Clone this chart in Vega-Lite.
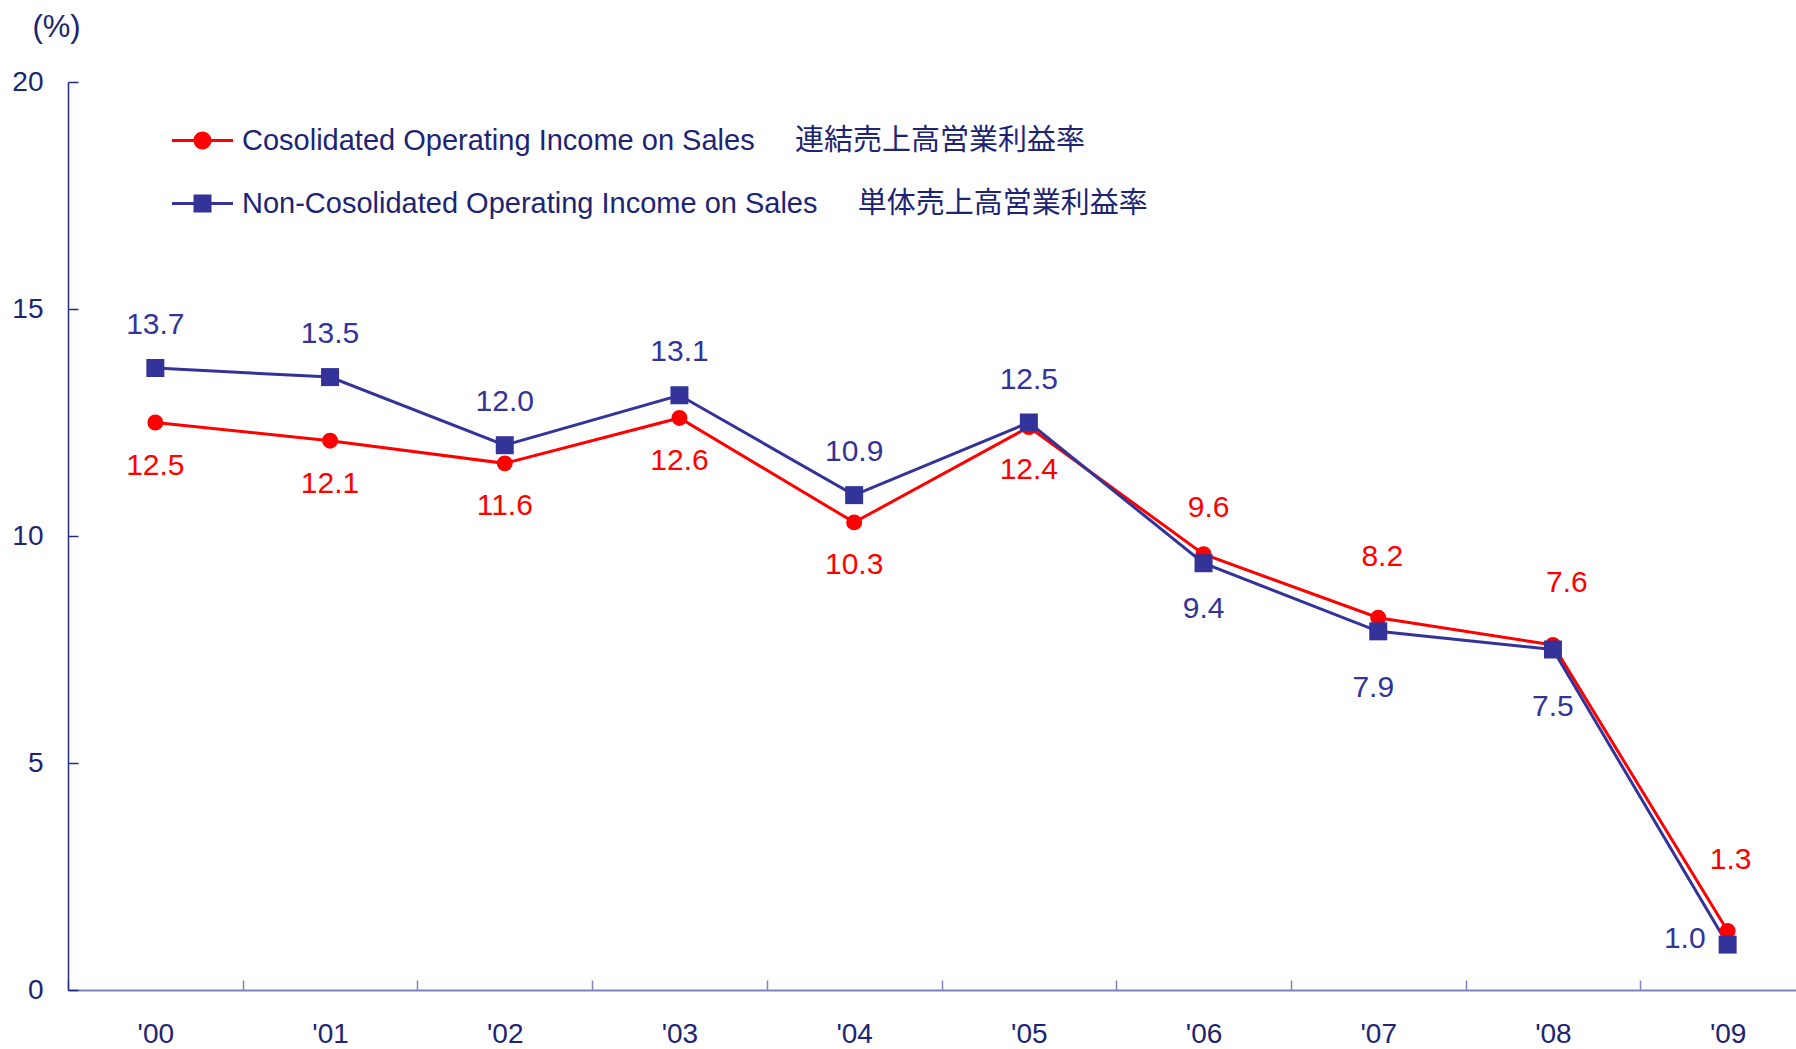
{
  "$schema": "https://vega.github.io/schema/vega-lite/v6.json",
  "autosize": {"type": "none"},
  "width": 1727,
  "height": 908,
  "padding": {"left": 68, "top": 82, "right": 1, "bottom": 59},
  "background": "white",
  "config": {
    "view": {"stroke": null},
    "font": "Liberation Sans, Arial, Noto Sans CJK JP, sans-serif"
  },
  "data": {
    "values": [
      {"year": "'00", "series": "Cosolidated Operating Income on Sales\u00a0\u00a0\u00a0\u00a0\u00a0連結売上高営業利益率", "value": 12.5},
      {"year": "'01", "series": "Cosolidated Operating Income on Sales\u00a0\u00a0\u00a0\u00a0\u00a0連結売上高営業利益率", "value": 12.1},
      {"year": "'02", "series": "Cosolidated Operating Income on Sales\u00a0\u00a0\u00a0\u00a0\u00a0連結売上高営業利益率", "value": 11.6},
      {"year": "'03", "series": "Cosolidated Operating Income on Sales\u00a0\u00a0\u00a0\u00a0\u00a0連結売上高営業利益率", "value": 12.6},
      {"year": "'04", "series": "Cosolidated Operating Income on Sales\u00a0\u00a0\u00a0\u00a0\u00a0連結売上高営業利益率", "value": 10.3},
      {"year": "'05", "series": "Cosolidated Operating Income on Sales\u00a0\u00a0\u00a0\u00a0\u00a0連結売上高営業利益率", "value": 12.4},
      {"year": "'06", "series": "Cosolidated Operating Income on Sales\u00a0\u00a0\u00a0\u00a0\u00a0連結売上高営業利益率", "value": 9.6},
      {"year": "'07", "series": "Cosolidated Operating Income on Sales\u00a0\u00a0\u00a0\u00a0\u00a0連結売上高営業利益率", "value": 8.2},
      {"year": "'08", "series": "Cosolidated Operating Income on Sales\u00a0\u00a0\u00a0\u00a0\u00a0連結売上高営業利益率", "value": 7.6},
      {"year": "'09", "series": "Cosolidated Operating Income on Sales\u00a0\u00a0\u00a0\u00a0\u00a0連結売上高営業利益率", "value": 1.3},
      {"year": "'00", "series": "Non-Cosolidated Operating Income on Sales\u00a0\u00a0\u00a0\u00a0\u00a0単体売上高営業利益率", "value": 13.7},
      {"year": "'01", "series": "Non-Cosolidated Operating Income on Sales\u00a0\u00a0\u00a0\u00a0\u00a0単体売上高営業利益率", "value": 13.5},
      {"year": "'02", "series": "Non-Cosolidated Operating Income on Sales\u00a0\u00a0\u00a0\u00a0\u00a0単体売上高営業利益率", "value": 12.0},
      {"year": "'03", "series": "Non-Cosolidated Operating Income on Sales\u00a0\u00a0\u00a0\u00a0\u00a0単体売上高営業利益率", "value": 13.1},
      {"year": "'04", "series": "Non-Cosolidated Operating Income on Sales\u00a0\u00a0\u00a0\u00a0\u00a0単体売上高営業利益率", "value": 10.9},
      {"year": "'05", "series": "Non-Cosolidated Operating Income on Sales\u00a0\u00a0\u00a0\u00a0\u00a0単体売上高営業利益率", "value": 12.5},
      {"year": "'06", "series": "Non-Cosolidated Operating Income on Sales\u00a0\u00a0\u00a0\u00a0\u00a0単体売上高営業利益率", "value": 9.4},
      {"year": "'07", "series": "Non-Cosolidated Operating Income on Sales\u00a0\u00a0\u00a0\u00a0\u00a0単体売上高営業利益率", "value": 7.9},
      {"year": "'08", "series": "Non-Cosolidated Operating Income on Sales\u00a0\u00a0\u00a0\u00a0\u00a0単体売上高営業利益率", "value": 7.5},
      {"year": "'09", "series": "Non-Cosolidated Operating Income on Sales\u00a0\u00a0\u00a0\u00a0\u00a0単体売上高営業利益率", "value": 1.0}
    ]
  },
  "encoding": {
    "x": {
      "field": "year",
      "type": "ordinal",
      "sort": null,
      "scale": {"type": "band", "range": [0, 1747], "paddingInner": 0, "paddingOuter": 0},
      "axis": {
        "title": null,
        "labelAngle": 0,
        "labelFontSize": 28,
        "labelColor": "#1c2473",
        "labelFont": "Liberation Sans",
        "labelPadding": 40,
        "labelBaseline": "top",
        "tickBand": "extent",
        "tickSize": -10,
        "tickColor": "#7c84bb",
        "tickWidth": 1.5,
        "domainColor": "#7c84bb",
        "domainWidth": 2,
        "grid": false
      }
    },
    "y": {
      "field": "value",
      "type": "quantitative",
      "scale": {"domain": [0, 20], "nice": false},
      "axis": {
        "values": [0, 5, 10, 15, 20],
        "title": "(%)",
        "titleAngle": 0,
        "titleX": -12,
        "titleY": -55,
        "titleAlign": "center",
        "titleBaseline": "middle",
        "titleFontSize": 31,
        "titleFontWeight": "normal",
        "titleColor": "#1c2473",
        "titleFont": "Liberation Sans",
        "labelFontSize": 28,
        "labelColor": "#1c2473",
        "labelFont": "Liberation Sans",
        "labelPadding": 35,
        "tickSize": -10,
        "tickColor": "#1f2a80",
        "tickWidth": 1.5,
        "domainColor": "#1f2a80",
        "domainWidth": 1.5,
        "grid": false
      }
    },
    "color": {
      "field": "series",
      "type": "nominal",
      "scale": {
        "domain": [
          "Cosolidated Operating Income on Sales\u00a0\u00a0\u00a0\u00a0\u00a0連結売上高営業利益率",
          "Non-Cosolidated Operating Income on Sales\u00a0\u00a0\u00a0\u00a0\u00a0単体売上高営業利益率"
        ],
        "range": ["#ff0000", "#333399"]
      },
      "legend": {
        "title": null,
        "orient": "none",
        "legendX": 104,
        "legendY": 28,
        "padding": 0,
        "rowPadding": 17,
        "symbolSize": 3721,
        "symbolStrokeWidth": 0,
        "labelOffset": 9,
        "labelFontSize": 29,
        "labelColor": "#1c2473",
        "labelFont": "Liberation Sans, Noto Sans CJK JP",
        "labelLimit": 2000,
        "encode": {
          "symbols": {
            "update": {
              "shape": {"signal": "indexof(datum.value, 'Non-') === 0 ? 'M-1,-0.05H1V0.05H-1Z M-0.295,-0.295H0.295V0.295H-0.295Z' : 'M-1,-0.05H1V0.05H-1Z M0.295,0A0.295,0.295 0 1,1 -0.295,0A0.295,0.295 0 1,1 0.295,0Z'"},
              "fill": {"signal": "indexof(datum.value, 'Non-') === 0 ? '#333399' : '#ff0000'"},
              "fillOpacity": {"value": 1},
              "strokeWidth": {"value": 0}
            }
          }
        }
      }
    }
  },
  "layer": [
    {
      "mark": {"type": "line", "strokeWidth": 3}
    },
    {
      "mark": {"type": "point", "filled": true, "opacity": 1},
      "encoding": {
        "shape": {
          "field": "series",
          "type": "nominal",
          "scale": {"range": ["circle", "square"]},
          "legend": null
        },
        "size": {
          "field": "series",
          "type": "nominal",
          "scale": {"range": [254, 324]},
          "legend": null
        }
      }
    },
    {
      "transform": [{"filter": "indexof(datum.series, 'Non-') !== 0 && indexof(['\\'00','\\'01','\\'02','\\'03','\\'04','\\'05'], datum.year) >= 0"}],
      "mark": {"type": "text", "fontSize": 30, "baseline": "middle", "dy": 43, "font": "Liberation Sans"},
      "encoding": {"text": {"field": "value", "type": "quantitative", "format": ".1f"}}
    },
    {
      "transform": [{"filter": "indexof(datum.series, 'Non-') !== 0 && datum.year === '\\'06'"}],
      "mark": {"type": "text", "fontSize": 30, "baseline": "middle", "dy": -46, "dx": 5, "font": "Liberation Sans"},
      "encoding": {"text": {"field": "value", "type": "quantitative", "format": ".1f"}}
    },
    {
      "transform": [{"filter": "indexof(datum.series, 'Non-') !== 0 && datum.year === '\\'07'"}],
      "mark": {"type": "text", "fontSize": 30, "baseline": "middle", "dy": -61, "dx": 4, "font": "Liberation Sans"},
      "encoding": {"text": {"field": "value", "type": "quantitative", "format": ".1f"}}
    },
    {
      "transform": [{"filter": "indexof(datum.series, 'Non-') !== 0 && datum.year === '\\'08'"}],
      "mark": {"type": "text", "fontSize": 30, "baseline": "middle", "dy": -62, "dx": 14, "font": "Liberation Sans"},
      "encoding": {"text": {"field": "value", "type": "quantitative", "format": ".1f"}}
    },
    {
      "transform": [{"filter": "indexof(datum.series, 'Non-') !== 0 && datum.year === '\\'09'"}],
      "mark": {"type": "text", "fontSize": 30, "baseline": "middle", "dy": -71, "dx": 3, "font": "Liberation Sans"},
      "encoding": {"text": {"field": "value", "type": "quantitative", "format": ".1f"}}
    },
    {
      "transform": [{"filter": "indexof(datum.series, 'Non-') === 0 && indexof(['\\'00','\\'01','\\'02','\\'03','\\'04','\\'05'], datum.year) >= 0"}],
      "mark": {"type": "text", "fontSize": 30, "baseline": "middle", "dy": -43, "font": "Liberation Sans"},
      "encoding": {"text": {"field": "value", "type": "quantitative", "format": ".1f"}}
    },
    {
      "transform": [{"filter": "indexof(datum.series, 'Non-') === 0 && datum.year === '\\'06'"}],
      "mark": {"type": "text", "fontSize": 30, "baseline": "middle", "dy": 46, "font": "Liberation Sans"},
      "encoding": {"text": {"field": "value", "type": "quantitative", "format": ".1f"}}
    },
    {
      "transform": [{"filter": "indexof(datum.series, 'Non-') === 0 && datum.year === '\\'07'"}],
      "mark": {"type": "text", "fontSize": 30, "baseline": "middle", "dy": 57, "dx": -5, "font": "Liberation Sans"},
      "encoding": {"text": {"field": "value", "type": "quantitative", "format": ".1f"}}
    },
    {
      "transform": [{"filter": "indexof(datum.series, 'Non-') === 0 && datum.year === '\\'08'"}],
      "mark": {"type": "text", "fontSize": 30, "baseline": "middle", "dy": 57, "font": "Liberation Sans"},
      "encoding": {"text": {"field": "value", "type": "quantitative", "format": ".1f"}}
    },
    {
      "transform": [{"filter": "indexof(datum.series, 'Non-') === 0 && datum.year === '\\'09'"}],
      "mark": {"type": "text", "fontSize": 30, "baseline": "middle", "align": "right", "dy": -6, "dx": -22, "font": "Liberation Sans"},
      "encoding": {"text": {"field": "value", "type": "quantitative", "format": ".1f"}}
    }
  ]
}
